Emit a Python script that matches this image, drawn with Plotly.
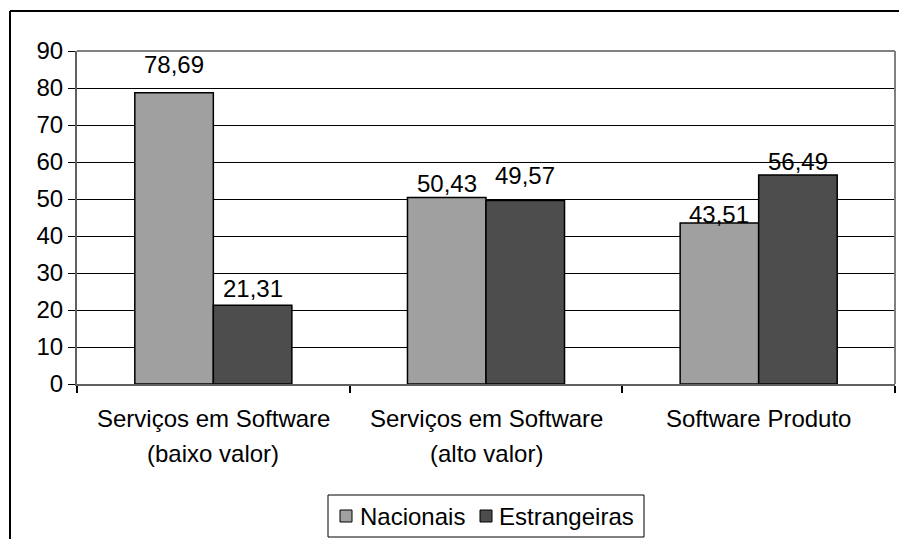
import plotly.graph_objects as go

categories = ["Serviços em Software (baixo valor)", "Serviços em Software (alto valor)", "Software Produto"]
label_line1 = ["Serviços em Software", "Serviços em Software", "Software Produto"]
label_line2 = ["(baixo valor)", "(alto valor)", ""]
series_names = ["Nacionais", "Estrangeiras"]
nacionais = [78.69, 50.43, 43.51]
estrangeiras = [21.31, 49.57, 56.49]
y_ticks = [0, 10, 20, 30, 40, 50, 60, 70, 80, 90]

FONT = "Liberation Sans, Arial, sans-serif"
FS = 24
W, H = 899, 539
L, T = 77, 51
R = W - 895
B = H - 384
PW = W - L - R
PH = H - T - B
bargap = 0.424
colors = ["#a0a0a0", "#4d4d4d"]

fig = go.Figure()
for name, vals, col in zip(series_names, [nacionais, estrangeiras], colors):
    fig.add_trace(go.Bar(name=name, x=categories, y=vals,
                         marker=dict(color=col, line=dict(color="#000000", width=1.5))))

def fmt(v):
    return f"{v:.2f}".replace(".", ",")

off = (1 - bargap) / 4
yshifts_n = [28, 14, 9]
yshifts_e = [17, 25, 13]
ann = []
tf = dict(family=FONT, size=FS, color="#000")
for i, c in enumerate(categories):
    ann.append(dict(x=i - off, y=nacionais[i], xref="x", yref="y", text=fmt(nacionais[i]),
                    showarrow=False, yanchor="middle", yshift=yshifts_n[i], font=tf))
    ann.append(dict(x=i + off, y=estrangeiras[i], xref="x", yref="y", text=fmt(estrangeiras[i]),
                    showarrow=False, yanchor="middle", yshift=yshifts_e[i], font=tf))
    ann.append(dict(x=i, y=0, xref="x", yref="y", text=label_line1[i], showarrow=False,
                    yanchor="middle", yshift=-34, font=tf))
    if label_line2[i]:
        ann.append(dict(x=i, y=0, xref="x", yref="y", text=label_line2[i], showarrow=False,
                        yanchor="middle", yshift=-69, font=tf))

def px_x(p):
    return (p - L) / PW

def px_y(p):
    return (H - B - p) / PH

shapes = [
    dict(type="line", xref="paper", yref="paper", x0=px_x(10), x1=px_x(910), y0=px_y(11), y1=px_y(11),
         line=dict(color="#000", width=2)),
    dict(type="line", xref="paper", yref="paper", x0=px_x(10), x1=px_x(10), y0=px_y(11), y1=px_y(560),
         line=dict(color="#000", width=2)),
    dict(type="line", xref="paper", yref="paper", x0=0, x1=1, y0=1, y1=1,
         line=dict(color="#808080", width=2), layer="above"),
    dict(type="line", xref="paper", yref="paper", x0=1, x1=1, y0=0, y1=1,
         line=dict(color="#808080", width=2), layer="above"),
    # legend box
    dict(type="rect", xref="paper", yref="paper", x0=px_x(328), x1=px_x(644), y0=px_y(495), y1=px_y(537),
         line=dict(color="#000", width=1), fillcolor="white"),
]
# legend entries
leg_sq_x = [340, 480]
leg_txt_x = [358, 497]
for k, name in enumerate(series_names):
    shapes.append(dict(type="rect", xref="paper", yref="paper",
                       x0=px_x(leg_sq_x[k]), x1=px_x(leg_sq_x[k] + 12),
                       y0=px_y(510), y1=px_y(522),
                       line=dict(color="#000", width=1), fillcolor=colors[k]))
    ann.append(dict(x=px_x(leg_txt_x[k]), y=px_y(516), xref="paper", yref="paper", text=name,
                    showarrow=False, xanchor="left", yanchor="middle", font=tf))

fig.update_layout(
    width=W, height=H,
    margin=dict(l=L, r=R, t=T, b=B, pad=0, autoexpand=False),
    paper_bgcolor="white", plot_bgcolor="white",
    barmode="group", bargap=bargap, bargroupgap=0,
    font=dict(family=FONT, size=FS, color="#000"),
    showlegend=False,
    annotations=ann,
    shapes=shapes,
)
fig.update_xaxes(type="category", showticklabels=False, ticks="outside", tickson="boundaries",
                 ticklen=7, tickcolor="#000", tickwidth=1.5, showline=True, linecolor="#606060",
                 linewidth=2, showgrid=False, range=[-0.5, 2.5], automargin=False)
fig.update_yaxes(range=[0, 90], tickvals=y_ticks, ticks="outside", ticklen=7, tickcolor="#000",
                 tickwidth=1, showline=True, linecolor="#606060", linewidth=2, showgrid=True,
                 gridcolor="#000", gridwidth=1, zeroline=False, tickfont=tf, automargin=False)

fig.write_html("out.html", config={"displayModeBar": False},
               post_script="document.body.style.margin='0';document.body.style.overflow='hidden';")
